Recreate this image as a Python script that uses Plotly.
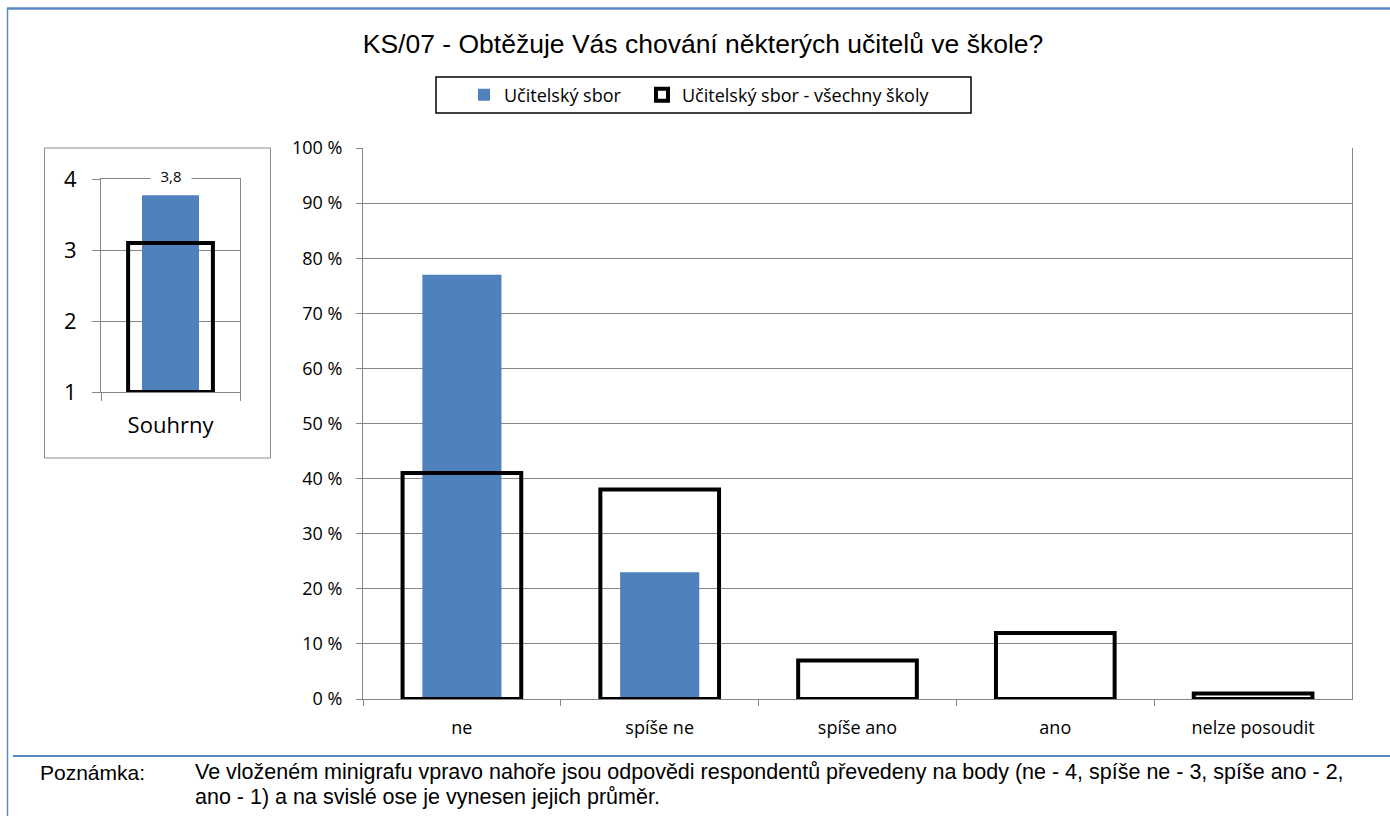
import plotly.graph_objects as go

# ---------------- data ----------------
categories = ["ne", "spíše ne", "spíše ano", "ano", "nelze posoudit"]
school_pct = [77, 23, 0, 0, 0]
all_schools_pct = [41, 38, 7, 12, 1]

mini_categories = ["Souhrny"]
mini_school = [3.77]
mini_all_schools = [3.1]
mini_base = 1

series_names = ["Učitelský sbor", "Učitelský sbor - všechny školy"]
title_text = "KS/07 - Obtěžuje Vás chování některých učitelů ve škole?"
note_label = "Poznámka:"
note_lines = [
    "Ve vloženém minigrafu vpravo nahoře jsou odpovědi respondentů převedeny na body (ne - 4, spíše ne - 3, spíše ano - 2,",
    "ano - 1) a na svislé ose je vynesen jejich průměr.",
]

# ---------------- style ----------------
W, H = 1390, 816
BLUE = "#4F81BD"
GRID = "#868686"
FRAME = "#5B88C2"
LBL_FONT = "Open Sans"
ARIAL_LIKE = "Liberation Sans"


def fx(px):
    return px / W


def fy(py):
    return 1 - py / H


fig = go.Figure()

# main chart
fig.add_trace(go.Bar(
    x=categories, y=school_pct, name=series_names[0],
    marker=dict(color=BLUE, line=dict(width=0)), width=0.4,
    xaxis="x", yaxis="y", legend="legend",
))
fig.add_trace(go.Bar(
    x=categories, y=all_schools_pct, name=series_names[1],
    marker=dict(color="rgba(0,0,0,0)", line=dict(color="black", width=4)), width=0.6,
    xaxis="x", yaxis="y", legend="legend2",
))

# mini chart
fig.add_trace(go.Bar(
    x=mini_categories, y=[v - mini_base for v in mini_school], base=mini_base,
    marker=dict(color=BLUE, line=dict(width=0)), width=0.41,
    xaxis="x2", yaxis="y2", showlegend=False,
))
fig.add_trace(go.Bar(
    x=mini_categories, y=[v - mini_base for v in mini_all_schools], base=mini_base,
    marker=dict(color="rgba(0,0,0,0)", line=dict(color="black", width=4)), width=0.61,
    xaxis="x2", yaxis="y2", showlegend=False,
))

axis_common = dict(showline=True, linecolor=GRID, linewidth=1, tickcolor=GRID,
                   ticks="outside", zeroline=False)

legend_common = dict(orientation="h", xanchor="left", y=fy(95), yanchor="middle",
                     bgcolor="rgba(0,0,0,0)", borderwidth=0,
                     font=dict(family=LBL_FONT, size=18, color="black"))

fig.update_layout(
    width=W, height=H,
    margin=dict(l=0, r=0, t=0, b=0, autoexpand=False),
    paper_bgcolor="white", plot_bgcolor="white",
    barmode="overlay",
    title=dict(text=title_text, x=fx(703), xanchor="center", y=fy(44), yanchor="middle",
               font=dict(family=ARIAL_LIKE, size=26.5, color="black")),
    xaxis=dict(domain=[fx(363), fx(1352)], anchor="y", type="category",
               tickson="boundaries", ticklen=6, showgrid=False,
               ticklabelstandoff=12,
               tickfont=dict(family=LBL_FONT, size=18, color="black"), **axis_common),
    yaxis=dict(domain=[fy(699), fy(148)], anchor="x", range=[0, 100], dtick=10,
               ticksuffix=" %", ticklen=6, showgrid=True, gridcolor=GRID, gridwidth=1,
               mirror=True, ticklabelstandoff=10,
               tickfont=dict(family=LBL_FONT, size=18, color="black"), **axis_common),
    xaxis2=dict(domain=[fx(101), fx(240)], anchor="y2", type="category",
                tickson="boundaries", ticklen=8, showgrid=True, gridcolor=GRID,
                mirror=True, ticklabelstandoff=14,
                tickfont=dict(family=LBL_FONT, size=22, color="black"), **axis_common),
    yaxis2=dict(domain=[fy(392), fy(179)], anchor="x2", range=[1, 4], dtick=1,
                ticklen=8, showgrid=True, gridcolor=GRID, mirror=True,
                ticklabelstandoff=11,
                tickfont=dict(family=LBL_FONT, size=22, color="black"), **axis_common),
    legend=dict(x=fx(464), **legend_common),
    legend2=dict(x=fx(642), **legend_common),
    showlegend=True,
)

# value label in mini chart
fig.add_annotation(
    x=mini_categories[0], y=4, xref="x2", yref="y2",
    text=f"{mini_school[0]:.1f}".replace(".", ","), showarrow=False,
    bgcolor="white", borderpad=0, width=40, height=18, yshift=3,
    font=dict(family=LBL_FONT, size=15, color="black"),
)

# note
fig.add_annotation(x=fx(38), y=fy(772), xref="paper", yref="paper", xanchor="left",
                   yanchor="middle", text=note_label, showarrow=False,
                   font=dict(family=ARIAL_LIKE, size=21, color="black"))
for i, line in enumerate(note_lines):
    fig.add_annotation(x=fx(193), y=fy(772 + 25 * i), xref="paper", yref="paper",
                       xanchor="left", yanchor="middle", text=line, showarrow=False,
                       font=dict(family=ARIAL_LIKE, size=21.5, color="black"))

# frames
shapes = [
    dict(type="rect", xref="paper", yref="paper", x0=fx(436), x1=fx(971), y0=fy(77), y1=fy(113),
         line=dict(color="black", width=1.5), fillcolor="rgba(0,0,0,0)"),
    dict(type="rect", xref="paper", yref="paper", x0=fx(44.5), x1=fx(270.5), y0=fy(148), y1=fy(458),
         line=dict(color="#8C8C8C", width=1), fillcolor="rgba(0,0,0,0)"),
    dict(type="line", xref="paper", yref="paper", x0=fx(7), x1=1, y0=fy(8.5), y1=fy(8.5),
         line=dict(color=FRAME, width=2.5)),
    dict(type="line", xref="paper", yref="paper", x0=fx(7.5), x1=fx(7.5), y0=fy(8), y1=0,
         line=dict(color=FRAME, width=1.5)),
    dict(type="line", xref="paper", yref="paper", x0=fx(13), x1=1, y0=fy(756), y1=fy(756),
         line=dict(color=FRAME, width=2)),
]
fig.update_layout(shapes=shapes)

fig.write_html("out.html", config={"displayModeBar": False},
               post_script="document.body.style.margin='0';")
